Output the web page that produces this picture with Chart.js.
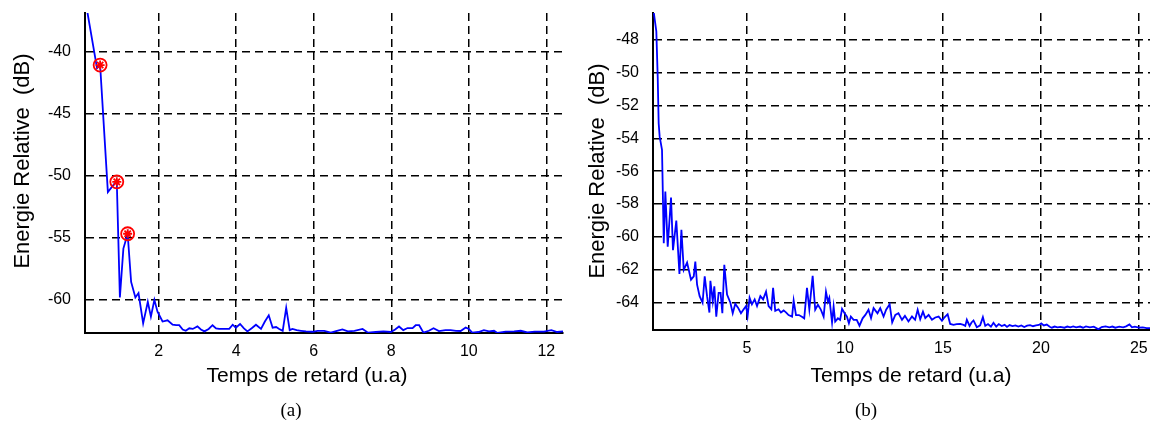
<!DOCTYPE html>
<html>
<head>
<meta charset="utf-8">
<script src="https://cdn.jsdelivr.net/npm/chart.js@4.4.1/dist/chart.umd.min.js"></script>
<style>
  body { margin: 0; background: #fff; width: 1150px; height: 430px; position: relative; overflow: hidden; }
  canvas { position: absolute; top: 0; }
  #chartA { left: 0; }
  #chartB { left: 575px; }
  .cap { position: absolute; top: 410px; transform: translate(-50%, -50%); font-family: "Liberation Serif", "Times New Roman", serif; font-size: 19px; color: #000; }
</style>
</head>
<body>
<canvas id="chartA" width="575" height="400"></canvas>
<canvas id="chartB" width="575" height="400"></canvas>
<div class="cap" style="left:291px">(a)</div>
<div class="cap" style="left:866px">(b)</div>
<script>
// ************ data, panel (a) ***************
var xA = [0.13, 0.41, 0.49, 0.69, 0.86, 0.92, 1.0, 1.09, 1.2, 1.29, 1.4, 1.48, 1.6, 1.72, 1.8, 1.89, 1.97,
  2.1, 2.23, 2.36, 2.45, 2.53, 2.62, 2.7, 2.79, 2.88, 3.0, 3.09, 3.18, 3.29, 3.39, 3.48, 3.56, 3.7, 3.82, 3.91,
  3.99, 4.1, 4.2, 4.29, 4.4, 4.51, 4.64, 4.74, 4.84, 4.94, 5.03, 5.11, 5.2, 5.29, 5.38, 5.45, 5.56, 5.67, 5.8,
  5.97, 6.1, 6.27, 6.44, 6.6, 6.74, 6.88, 7.05, 7.26, 7.4, 7.6, 7.8, 7.99, 8.1, 8.2, 8.31, 8.42, 8.55, 8.63,
  8.72, 8.83, 8.97, 9.09, 9.23, 9.4, 9.53, 9.67, 9.79, 9.92, 10.0, 10.09, 10.25, 10.39, 10.52, 10.65, 10.74,
  10.95, 11.17, 11.34, 11.51, 11.7, 11.94, 12.13, 12.28, 12.43];
var yA = [-36.2, -41.3, -41.05, -51.33, -50.65, -50.5, -59.85, -55.9, -54.7, -58.6, -59.85, -59.5, -61.95,
  -60.2, -61.4, -60.05, -61.0, -61.8, -61.7, -62.06, -62.1, -62.1, -62.45, -62.55, -62.35, -62.4, -62.2,
  -62.45, -62.6, -62.4, -62.1, -62.35, -62.4, -62.4, -62.4, -62.06, -62.3, -62.0, -62.35, -62.6, -62.35,
  -62.06, -62.4, -61.8, -61.3, -62.3, -62.25, -62.4, -62.55, -60.7, -62.5, -62.4, -62.5, -62.55, -62.6,
  -62.63, -62.55, -62.55, -62.7, -62.55, -62.44, -62.6, -62.55, -62.4, -62.7, -62.65, -62.6, -62.65, -62.45,
  -62.2, -62.5, -62.33, -62.33, -62.1, -62.1, -62.7, -62.55, -62.35, -62.57, -62.5, -62.5, -62.55, -62.57,
  -62.28, -62.4, -62.7, -62.65, -62.5, -62.6, -62.55, -62.73, -62.62, -62.6, -62.55, -62.68, -62.62, -62.62,
  -62.5, -62.65, -62.6];
// the three circled points
var markX = [0.49, 0.92, 1.2];
var markY = [-41.05, -50.5, -54.7];
var xTicksA = [2, 4, 6, 8, 10, 12];
var yTicksA = [-60, -55, -50, -45, -40];

// ************ data, panel (b) ***************
var xB = [0.2, 0.37, 0.44, 0.49, 0.54, 0.66, 0.75, 0.83, 0.95, 1.12, 1.22, 1.39, 1.55, 1.65, 1.77, 1.94, 2.14,
  2.28, 2.36, 2.45, 2.58, 2.73, 2.84, 2.96, 3.08, 3.13, 3.25, 3.33, 3.43, 3.55, 3.65, 3.74, 3.84, 3.98, 4.15,
  4.27, 4.4, 4.54, 4.69, 4.83, 4.95, 5.03, 5.13, 5.25, 5.39, 5.51, 5.68, 5.82, 5.97, 6.1, 6.24, 6.33, 6.44,
  6.61, 6.73, 6.87, 7.0, 7.12, 7.3, 7.38, 7.5, 7.65, 7.8, 7.92, 8.06, 8.18, 8.35, 8.48, 8.62, 8.76, 8.91, 9.03,
  9.13, 9.2, 9.34, 9.42, 9.5, 9.64, 9.75, 9.85, 9.98, 10.1, 10.2, 10.3, 10.44, 10.6, 10.74, 10.9, 11.04, 11.2,
  11.33, 11.46, 11.66, 11.8, 11.97, 12.1, 12.28, 12.41, 12.57, 12.73, 12.91, 13.06, 13.24, 13.42, 13.58,
  13.71, 13.84, 13.98, 14.1, 14.27, 14.44, 14.61, 14.78, 14.95, 15.07, 15.24, 15.37, 15.54, 15.7, 15.88,
  16.05, 16.14, 16.22, 16.36, 16.46, 16.56, 16.73, 16.9, 17.04, 17.16, 17.3, 17.45, 17.58, 17.72, 17.85,
  18.0, 18.15, 18.27, 18.4, 18.55, 18.7, 18.85, 19.0, 19.15, 19.3, 19.45, 19.6, 19.75, 19.9, 20.02, 20.15,
  20.3, 20.45, 20.56, 20.7, 20.85, 21.0, 21.2, 21.35, 21.5, 21.65, 21.8, 22.0, 22.15, 22.3, 22.5, 22.7, 22.94,
  23.1, 23.3, 23.5, 23.65, 23.8, 24.0, 24.2, 24.35, 24.52, 24.65, 24.8, 25.0, 25.2, 25.4, 25.6];
var yB = [-46.0, -47.5, -50.25, -53.1, -53.9, -54.7, -60.38, -57.24, -60.6, -57.6, -60.8, -59.0, -62.25,
  -59.57, -62.0, -61.56, -62.6, -62.4, -61.5, -62.9, -63.6, -64.0, -62.4, -63.6, -64.6, -62.67, -63.9, -63.0,
  -64.85, -63.4, -63.4, -64.64, -61.7, -63.5, -64.0, -64.64, -64.07, -64.3, -64.64, -64.4, -64.2, -64.8,
  -63.7, -64.1, -63.8, -64.2, -63.6, -63.8, -63.33, -64.2, -64.4, -63.1, -64.5, -64.4, -64.6, -64.47, -64.6,
  -64.75, -64.85, -63.87, -64.75, -64.75, -64.85, -64.95, -63.1, -64.4, -62.37, -64.43, -64.13, -64.4,
  -64.85, -63.33, -63.94, -63.7, -65.2, -64.24, -65.15, -64.95, -65.05, -64.37, -64.64, -64.85, -65.25,
  -64.84, -65.04, -65.04, -65.4, -64.95, -64.74, -64.43, -64.94, -64.33, -64.64, -64.33, -64.84, -64.43,
  -64.09, -65.2, -64.74, -64.64, -65.04, -64.8, -65.14, -64.84, -65.04, -64.43, -65.0, -64.54, -64.94,
  -64.74, -65.04, -64.9, -64.84, -65.1, -64.9, -64.7, -65.29, -65.35, -65.3, -65.29, -65.35, -65.41, -65.04,
  -65.41, -65.2, -65.08, -65.49, -65.38, -64.88, -65.41, -65.3, -65.46, -65.22, -65.45, -65.3, -65.42,
  -65.35, -65.47, -65.36, -65.42, -65.38, -65.45, -65.38, -65.48, -65.4, -65.36, -65.43, -65.38, -65.35,
  -65.26, -65.38, -65.33, -65.46, -65.52, -65.45, -65.5, -65.47, -65.52, -65.45, -65.5, -65.44, -65.5,
  -65.45, -65.52, -65.44, -65.5, -65.46, -65.62, -65.48, -65.44, -65.5, -65.45, -65.52, -65.46, -65.5,
  -65.44, -65.32, -65.5, -65.46, -65.52, -65.5, -65.54, -65.55];
var xTicksB = [5, 10, 15, 20, 25];
var yTicksB = [-64, -62, -60, -58, -56, -54, -52, -50, -48];

var xTitle = "Temps de retard (u.a)";
var yTitle = "Energie Relative  (dB)";

function pts(xs, ys) {
  return xs.map(function (x, i) { return { x: x, y: ys[i] }; });
}

// axis titles are put where the original figure has them (not centred on the plot)
var axisTitles = {
  id: "axisTitles",
  afterDraw: function (chart, args, opts) {
    var ctx = chart.ctx;
    ctx.save();
    ctx.fillStyle = "#000";
    ctx.textAlign = "center";
    ctx.textBaseline = "alphabetic";
    ctx.font = '21px "Liberation Sans", Arial, sans-serif';
    ctx.fillText(xTitle, opts.xAt[0], opts.xAt[1]);
    ctx.font = '22px "Liberation Sans", Arial, sans-serif';
    ctx.translate(opts.yAt[0], opts.yAt[1]);
    ctx.rotate(-Math.PI / 2);
    ctx.fillText(yTitle, 0, 0);
    ctx.restore();
  }
};

var tickFont = { family: '"Liberation Sans", Arial, sans-serif', size: 16 };

function makeChart(id, o) {
  return new Chart(document.getElementById(id), {
    type: "line",
    data: { datasets: o.datasets },
    options: {
      responsive: false,
      animation: false,
      layout: { padding: o.padding },
      plugins: {
        legend: { display: false },
        tooltip: { enabled: false },
        axisTitles: o.titles
      },
      scales: {
        x: {
          type: "linear",
          min: o.xMin,
          max: o.xMax,
          afterBuildTicks: function (s) { s.ticks = o.xTicks.map(function (v) { return { value: v }; }); },
          afterFit: function (s) { s.height = o.xH; s.paddingLeft = 0; s.paddingRight = 0; },
          grid: { color: "#000", lineWidth: 1.5, drawTicks: false },
          border: { display: true, color: "#000", width: 2, dash: [8, 5] },
          ticks: { padding: 9, color: "#000", font: tickFont, maxRotation: 0, autoSkip: false }
        },
        y: {
          type: "linear",
          min: o.yMin,
          max: o.yMax,
          afterBuildTicks: function (s) { s.ticks = o.yTicks.map(function (v) { return { value: v }; }); },
          afterFit: function (s) { s.width = o.yW; s.paddingTop = 0; s.paddingBottom = 0; },
          grid: { color: "#000", lineWidth: 1.5, drawTicks: false },
          border: { display: true, color: "#000", width: 2, dash: [8, 5] },
          ticks: { padding: 14, color: "#000", font: tickFont, autoSkip: false }
        }
      }
    },
    plugins: [axisTitles]
  });
}

var lineStyle = { borderColor: "#0000ff", borderWidth: 1.8, pointRadius: 0, tension: 0, fill: false };

makeChart("chartA", {
  datasets: [
    Object.assign({ data: pts(xA, yA), order: 3 }, lineStyle),
    { data: pts(markX, markY), showLine: false, pointStyle: "circle", pointRadius: 6.5,
      pointBorderColor: "#ff0000", pointBackgroundColor: "rgba(255,0,0,0)", pointBorderWidth: 1.8, order: 2 },
    { data: pts(markX, markY), showLine: false, pointStyle: "star", pointRadius: 4.5,
      pointBorderColor: "#ff0000", pointBorderWidth: 1.8, order: 1 }
  ],
  padding: { top: 13, right: 12, left: 0, bottom: 0 },
  xMin: 0.1, xMax: 12.43, yMin: -62.73, yMax: -36.84,
  xTicks: xTicksA, yTicks: yTicksA,
  xH: 67, yW: 85,
  titles: { xAt: [307, 382], yAt: [29, 161] }
});

makeChart("chartB", {
  datasets: [Object.assign({ data: pts(xB, yB) }, lineStyle)],
  padding: { top: 13, right: 0, left: 0, bottom: 0 },
  xMin: 0.2, xMax: 25.57, yMin: -65.66, yMax: -46.38,
  xTicks: xTicksB, yTicks: yTicksB,
  xH: 70, yW: 78,
  titles: { xAt: [336, 382], yAt: [29, 171] }
});
</script>
</body>
</html>
